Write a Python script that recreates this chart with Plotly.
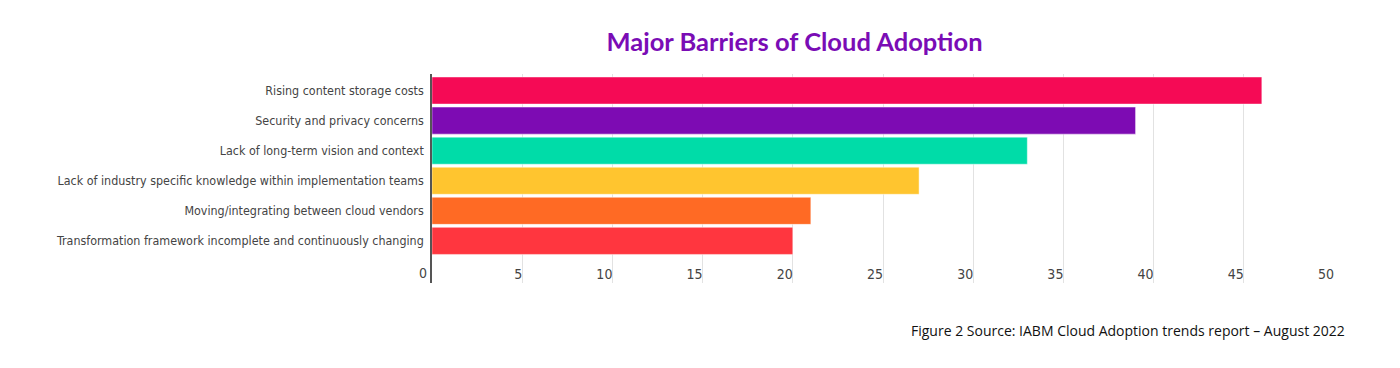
import plotly.graph_objects as go

categories = [
    "Rising content storage costs",
    "Security and privacy concerns",
    "Lack of long-term vision and context",
    "Lack of industry specific knowledge within implementation teams",
    "Moving/integrating between cloud vendors",
    "Transformation framework incomplete and continuously changing",
]
values = [46, 39, 33, 27, 21, 20]
bar_colors = ["#F50A55", "#7D0BB3", "#00DCA8", "#FFC52F", "#FF6A24", "#FF363F"]
x_ticks = [0, 5, 10, 15, 20, 25, 30, 35, 40, 45, 50]

cats_bt = categories[::-1]
vals_bt = values[::-1]
cols_bt = bar_colors[::-1]

fig = go.Figure(
    go.Bar(
        x=vals_bt,
        y=cats_bt,
        orientation="h",
        marker=dict(color=cols_bt, line=dict(color="rgba(255,255,255,0.45)", width=1)),
        hoverinfo="x+y",
    )
)

cond = "DejaVu Sans Condensed, DejaVu Sans, sans-serif"
y_font = dict(family=cond, size=12.4, color="#444444")
x_font = dict(family=cond, size=14, color="#444444")

fig.update_layout(
    width=1400,
    height=368,
    paper_bgcolor="white",
    plot_bgcolor="white",
    margin=dict(l=432, r=66, t=74, b=85),
    bargap=0.1,
    showlegend=False,
    title=dict(
        text="<b>Major Barriers of Cloud Adoption</b>",
        font=dict(family="Lato, Inter, sans-serif", size=25.5, color="#7A0CB5"),
        x=794.5 / 1400,
        xref="container",
        xanchor="center",
        y=1 - 42 / 368,
        yref="container",
        yanchor="middle",
    ),
    xaxis=dict(
        range=[0, 50],
        tickvals=x_ticks,
        ticktext=[str(v) for v in x_ticks],
        showgrid=True,
        gridcolor="#E2E2E2",
        gridwidth=1,
        zeroline=False,
        showline=False,
        ticks="",
        ticklabelposition="inside left",
        ticklabelstandoff=-5,
        tickfont=x_font,
        automargin=False,
    ),
    yaxis=dict(
        type="category",
        categoryorder="array",
        categoryarray=cats_bt,
        range=[-1.4, 5.55],
        showgrid=False,
        showline=True,
        linecolor="#555555",
        linewidth=1.5,
        ticks="outside",
        ticklen=4,
        tickcolor="rgba(0,0,0,0)",
        tickfont=y_font,
        automargin=False,
    ),
    annotations=[
        dict(
            text=str(x_ticks[0]),
            xref="x",
            yref="paper",
            x=x_ticks[0],
            xanchor="right",
            xshift=-3,
            y=(283 - 272.5) / (368 - 74 - 85),
            yanchor="middle",
            showarrow=False,
            font=x_font,
        ),
        dict(
            text="Figure 2 Source: IABM Cloud Adoption trends report \u2013 August 2022",
            xref="paper",
            yref="paper",
            x=(1347 - 432) / (1400 - 432 - 66),
            xanchor="right",
            y=-(330 - 283) / (368 - 74 - 85),
            yanchor="middle",
            showarrow=False,
            font=dict(family="Open Sans, Liberation Sans, sans-serif", size=14, color="#111111"),
        ),
    ],
)

fig.write_html(
    "out.html",
    config={"displayModeBar": False},
    post_script="document.body.style.margin='0';",
)
